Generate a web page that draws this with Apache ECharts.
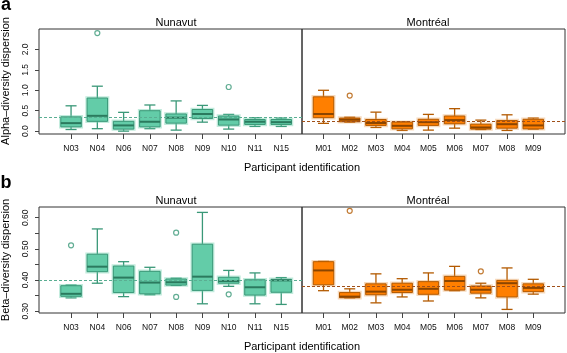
<!DOCTYPE html>
<html>
<head>
<meta charset="utf-8">
<script src="https://cdn.jsdelivr.net/npm/echarts@6/dist/echarts.min.js"></script>
<style>
  html, body { margin: 0; padding: 0; background: #fff; }
  #chart { width: 567px; height: 353px; }
</style>
</head>
<body>
<div id="chart"></div>
<script>
// participant ids
const nunavutIds = ['N03', 'N04', 'N06', 'N07', 'N08', 'N09', 'N10', 'N11', 'N15'];
const montrealIds = ['M01', 'M02', 'M03', 'M04', 'M05', 'M06', 'M07', 'M08', 'M09'];

// boxes: [lower whisker, Q1, median, Q3, upper whisker]
const alphaNunavut = [
  [0.04, 0.105, 0.196, 0.35, 0.62],
  [0.06, 0.24, 0.375, 0.81, 1.10],
  [0.0, 0.05, 0.14, 0.24, 0.46],
  [0.06, 0.105, 0.23, 0.50, 0.64],
  [0.025, 0.196, 0.33, 0.42, 0.74],
  [0.22, 0.31, 0.42, 0.53, 0.63],
  [0.05, 0.147, 0.285, 0.37, 0.41],
  [0.115, 0.164, 0.23, 0.285, 0.33],
  [0.115, 0.164, 0.22, 0.285, 0.32]
];
const alphaNunavutOut = [[1, 2.40], [6, 1.08]];

const alphaMontreal = [
  [0.19, 0.33, 0.42, 0.84, 1.0],
  [0.22, 0.23, 0.28, 0.32, 0.34],
  [0.09, 0.14, 0.20, 0.285, 0.465],
  [0.017, 0.056, 0.13, 0.22, 0.23],
  [0.025, 0.14, 0.22, 0.29, 0.41],
  [0.073, 0.18, 0.27, 0.37, 0.55],
  [0.04, 0.05, 0.09, 0.17, 0.27],
  [0.017, 0.073, 0.17, 0.26, 0.40],
  [0.05, 0.056, 0.14, 0.29, 0.32]
];
const alphaMontrealOut = [[1, 0.87]];

const betaNunavut = [
  [0.343, 0.348, 0.356, 0.382, 0.384],
  [0.39, 0.427, 0.443, 0.483, 0.564],
  [0.347, 0.36, 0.408, 0.445, 0.459],
  [0.353, 0.356, 0.392, 0.428, 0.441],
  [0.383, 0.384, 0.393, 0.4035, 0.406],
  [0.324, 0.367, 0.411, 0.515, 0.617],
  [0.38, 0.39, 0.397, 0.409, 0.431],
  [0.324, 0.352, 0.377, 0.401, 0.423],
  [0.322, 0.361, 0.399, 0.4025, 0.408]
];
const betaNunavutOut = [[0, 0.5115], [4, 0.552], [4, 0.346], [6, 0.3545]];

const betaMontreal = [
  [0.366, 0.385, 0.431, 0.459, 0.46],
  [0.343, 0.3435, 0.347, 0.36, 0.372],
  [0.327, 0.353, 0.363, 0.388, 0.42],
  [0.346, 0.36, 0.369, 0.39, 0.4045],
  [0.333, 0.3545, 0.372, 0.395, 0.423],
  [0.366, 0.368, 0.397, 0.412, 0.444],
  [0.343, 0.358, 0.369, 0.381, 0.39],
  [0.306, 0.346, 0.39, 0.399, 0.439],
  [0.355, 0.363, 0.375, 0.388, 0.4025]
];
const betaMontrealOut = [[1, 0.622], [6, 0.428]];

// group means (dashed lines): [Nunavut, Montréal]
const alphaMeans = [0.335, 0.245];
const betaMeans = [0.4045, 0.384];

// tick values
const catTicks = [0, 1, 2, 3, 4, 5, 6, 7, 8];
const alphaTicks = [0, 0.5, 1.0, 1.5, 2.0];
const betaTicks = [0.30, 0.35, 0.40, 0.45, 0.50, 0.55, 0.60];
const betaLabels = [0.30, 0.40, 0.50, 0.60];

const FONT = 'Liberation Sans, Arial, Helvetica, sans-serif';
const green = { fill: '#63cca8', line: '#3a9878', median: '#2b7a5e', halo: 'rgba(99,204,168,0.4)', mean: '#5aae92' };
const orange = { fill: '#ff7f00', line: '#b35a00', median: '#8b4500', halo: 'rgba(230,150,70,0.35)', mean: '#a0501a' };

let myChart = echarts.init(document.getElementById('chart'), null, { renderer: 'canvas' });

// grids: aN, aM, bN, bM
const grids = [
  { left: 39, top: 29, width: 263, height: 105 },
  { left: 302, top: 29, width: 263, height: 105 },
  { left: 39, top: 207, width: 263, height: 106 },
  { left: 302, top: 207, width: 263, height: 106 }
].map(g => Object.assign({ show: true, borderColor: '#333', borderWidth: 1, backgroundColor: 'transparent' }, g));

function xAxisFor(gi, ids, min, max) {
  return {
    gridIndex: gi, type: 'value', min: min, max: max,
    splitLine: { show: false }, axisLine: { show: false, onZero: false },
    axisTick: { show: true, length: 5, customValues: catTicks, lineStyle: { color: '#444' } },
    axisLabel: {
      customValues: catTicks, margin: 10, fontSize: 8.5, color: '#111', fontFamily: FONT,
      formatter: v => ids[Math.round(v)] || ''
    }
  };
}

function yAxisFor(gi, min, max, ticks, labels, fmt, show) {
  return {
    gridIndex: gi, type: 'value', min: min, max: max, position: 'left',
    splitLine: { show: false }, axisLine: { show: false, onZero: false },
    axisTick: { show: show, length: 4, customValues: ticks, lineStyle: { color: '#444' } },
    axisLabel: {
      show: show, customValues: labels, rotate: 90, margin: 9, fontSize: 8.5, color: '#111',
      fontFamily: FONT, formatter: fmt
    }
  };
}

function boxSeries(gi, boxes, col) {
  return {
    type: 'custom', xAxisIndex: gi, yAxisIndex: gi, clip: false,
    encode: { x: 0, y: [1, 2, 3, 4, 5] },
    data: boxes.map((b, i) => [i].concat(b)),
    renderItem: function (params, api) {
      const x = api.value(0);
      const pMin = api.coord([x, api.value(1)]);
      const pQ1 = api.coord([x, api.value(2)]);
      const pMed = api.coord([x, api.value(3)]);
      const pQ3 = api.coord([x, api.value(4)]);
      const pMax = api.coord([x, api.value(5)]);
      const w = api.size([0.78, 0])[0];
      const cw = api.size([0.42, 0])[0];
      const cx = pMed[0];
      const ls = { stroke: col.line, lineWidth: 1.3 };
      return {
        type: 'group',
        children: [
          { type: 'line', shape: { x1: cx, y1: pQ3[1], x2: cx, y2: pMax[1] }, style: ls },
          { type: 'line', shape: { x1: cx, y1: pQ1[1], x2: cx, y2: pMin[1] }, style: ls },
          { type: 'line', shape: { x1: cx - cw / 2, y1: pMax[1], x2: cx + cw / 2, y2: pMax[1] }, style: ls },
          { type: 'line', shape: { x1: cx - cw / 2, y1: pMin[1], x2: cx + cw / 2, y2: pMin[1] }, style: ls },
          { type: 'rect', shape: { x: cx - w / 2, y: pQ3[1], width: w, height: pQ1[1] - pQ3[1] },
            style: { fill: 'none', stroke: col.halo, lineWidth: 3.5 } },
          { type: 'rect', shape: { x: cx - w / 2, y: pQ3[1], width: w, height: pQ1[1] - pQ3[1] },
            style: { fill: col.fill, stroke: col.line, lineWidth: 1 } },
          { type: 'line', shape: { x1: cx - w / 2, y1: pMed[1], x2: cx + w / 2, y2: pMed[1] },
            style: { stroke: col.median, lineWidth: 2 } }
        ]
      };
    }
  };
}

function outlierSeries(gi, pts, col, mean) {
  return {
    type: 'scatter', xAxisIndex: gi, yAxisIndex: gi,
    symbol: 'circle', symbolSize: 5,
    itemStyle: { color: '#fff', borderColor: col.line, borderWidth: 1.2 },
    data: pts,
    markLine: {
      silent: true, symbol: 'none', label: { show: false },
      lineStyle: { color: col.mean, type: [3, 2], width: 1.2 },
      data: [{ yAxis: mean }]
    },
    z: 3
  };
}

const alphaFmt = v => v.toFixed(1);
const betaFmt = v => v.toFixed(2);

function txt(x, y, s, size, opts) {
  return {
    type: 'text', x: x, y: y,
    style: Object.assign({ text: s, font: size + 'px ' + FONT, fill: '#000', textAlign: 'center', textVerticalAlign: 'middle' }, opts || {})
  };
}

let option = {
  animation: false,
  grid: grids,
  xAxis: [
    xAxisFor(0, nunavutIds, -1.22, 8.79),
    xAxisFor(1, montrealIds, -0.82, 9.21),
    xAxisFor(2, nunavutIds, -1.22, 8.79),
    xAxisFor(3, montrealIds, -0.82, 9.21)
  ],
  yAxis: [
    yAxisFor(0, -0.07, 2.5, alphaTicks, alphaTicks, alphaFmt, true),
    yAxisFor(1, -0.07, 2.5, alphaTicks, alphaTicks, alphaFmt, false),
    yAxisFor(2, 0.2945, 0.6343, betaTicks, betaLabels, betaFmt, true),
    yAxisFor(3, 0.2945, 0.6343, betaTicks, betaLabels, betaFmt, false)
  ],
  series: [
    boxSeries(0, alphaNunavut, green), outlierSeries(0, alphaNunavutOut, green, alphaMeans[0]),
    boxSeries(1, alphaMontreal, orange), outlierSeries(1, alphaMontrealOut, orange, alphaMeans[1]),
    boxSeries(2, betaNunavut, green), outlierSeries(2, betaNunavutOut, green, betaMeans[0]),
    boxSeries(3, betaMontreal, orange), outlierSeries(3, betaMontrealOut, orange, betaMeans[1])
  ],
  graphic: [
    txt(6, 5, 'a', 18, { font: 'bold 18px ' + FONT }),
    txt(6, 183, 'b', 18, { font: 'bold 18px ' + FONT }),
    txt(176, 23, 'Nunavut', 11),
    txt(428, 23, 'Montréal', 11),
    txt(176, 201, 'Nunavut', 11),
    txt(428, 201, 'Montréal', 11),
    txt(302, 168, 'Participant identification', 11),
    txt(302, 347, 'Participant identification', 11),
    { type: 'text', x: 6, y: 81, rotation: Math.PI / 2,
      style: { text: 'Alpha–diversity dispersion', font: '11px ' + FONT, fill: '#000', textAlign: 'center', textVerticalAlign: 'middle' } },
    { type: 'text', x: 6, y: 260, rotation: Math.PI / 2,
      style: { text: 'Beta–diversity dispersion', font: '11px ' + FONT, fill: '#000', textAlign: 'center', textVerticalAlign: 'middle' } }
  ]
};

myChart.setOption(option);
</script>
</body>
</html>
